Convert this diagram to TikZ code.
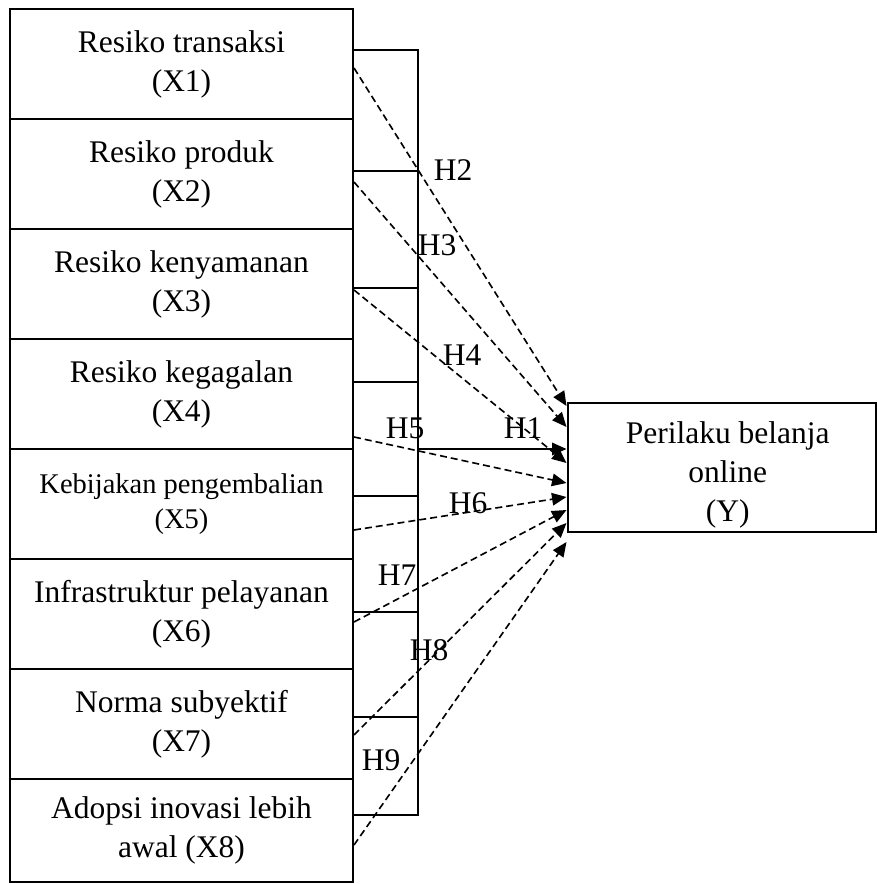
\documentclass[tikz,border=0pt]{standalone}
\usepackage{fontspec}
\setmainfont{Liberation Serif}
\usetikzlibrary{arrows.meta}
\newcommand{\diagfont}{\fontsize{12.6}{15.6}\selectfont}
\newcommand{\smallfont}{\fontsize{11.4}{14}\selectfont}

\begin{document}
\begin{tikzpicture}[>={Triangle[length=5.8pt,width=5pt]},x=0.4pt,y=-0.4pt,
        var/.style={draw,line width=0.8pt,minimum width=137.2pt,minimum height=44pt,inner sep=0pt,align=center,font=\diagfont},
        dep/.style={draw,line width=0.8pt,minimum width=123.4pt,minimum height=51.6pt,inner sep=0pt},
        hyp/.style={font=\diagfont,inner sep=0pt},
        dasharrow/.style={->,dash pattern=on 2.8pt off 1.6pt,line width=0.65pt}]
            \useasboundingbox (0,0) rectangle (877,884);
            \node[var] (x1) at (181.5,64) {Resiko transaksi\\(X1)};
            \node[var] (x2) at (181.5,174) {Resiko produk\\(X2)};
            \node[var] (x3) at (181.5,284) {Resiko kenyamanan\\(X3)};
            \node[var] (x4) at (181.5,394) {Resiko kegagalan\\(X4)};
            \node[var,font=\smallfont] (x5) at (181.5,504) {Kebijakan pengembalian\\(X5)};
            \node[var] (x6) at (181.5,614) {Infrastruktur pelayanan\\(X6)};
            \node[var] (x7) at (181.5,724) {Norma subyektif\\(X7)};
            \node[var,minimum height=41.2pt] (x8) at (181.5,830.5) {Adopsi inovasi lebih\\awal (X8)};
            \node[dep] (y) at (721.75,467.5) {};
            \node[font=\diagfont,align=center] (ytext) at ([xshift=2.4pt,yshift=-2.8pt]y.center) {Perilaku belanja\\online\\(Y)};
            \draw[line width=0.8pt] (x1.east |- 0,50) -| (417.7,815) -- (x8.east |- 0,815);
            \foreach \t in {171,288,382,496,612,717}
                \draw[line width=0.8pt] (x1.east |- 0,\t) -- (417.7,\t);
            \coordinate (jn) at (417.7,449);
            \draw[->,line width=0.8pt] (jn) -- (y.west |- jn);
            \foreach \n/\a/\b in {x1/68/406,x2/182/427,x3/290/463,x4/437/483,x5/530/497,x6/622/510,x7/735/523,x8/845/542}
                \draw[dasharrow] (\n.east |- 0,\a) -- (y.west |- 0,\b);
            \node[hyp] (lh1) at (523,428) {H1};
            \node[hyp] (lh2) at (453,170) {H2};
            \node[hyp] (lh3) at (437,245) {H3};
            \node[hyp] (lh4) at (462,355) {H4};
            \node[hyp] (lh5) at (405,428) {H5};
            \node[hyp] (lh6) at (468,503) {H6};
            \node[hyp] (lh7) at (397,575) {H7};
            \node[hyp] (lh8) at (429,650) {H8};
            \node[hyp] (lh9) at (381,760) {H9};
        \end{tikzpicture}
\end{document}
